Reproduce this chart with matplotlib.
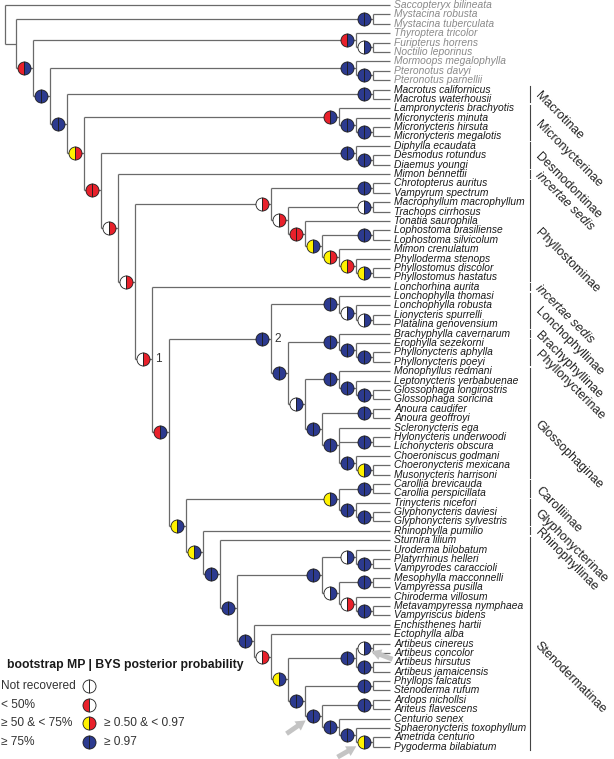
import matplotlib
matplotlib.use("Agg")
import matplotlib.pyplot as plt

plt.rcParams['font.family'] = ['Liberation Sans', 'DejaVu Sans']

# ---------------- data ----------------
TAXA = [
    "Saccopteryx bilineata", "Mystacina robusta", "Mystacina tuberculata",
    "Thyroptera tricolor", "Furipterus horrens", "Noctilio leporinus",
    "Mormoops megalophylla", "Pteronotus davyi", "Pteronotus parnellii",
    "Macrotus californicus", "Macrotus waterhousii", "Lampronycteris brachyotis",
    "Micronycteris minuta", "Micronycteris hirsuta", "Micronycteris megalotis",
    "Diphylla ecaudata", "Desmodus rotundus", "Diaemus youngi", "Mimon bennettii",
    "Chrotopterus auritus", "Vampyrum spectrum", "Macrophyllum macrophyllum",
    "Trachops cirrhosus", "Tonatia saurophila", "Lophostoma brasiliense",
    "Lophostoma silvicolum", "Mimon crenulatum", "Phylloderma stenops",
    "Phyllostomus discolor", "Phyllostomus hastatus", "Lonchorhina aurita",
    "Lonchophylla thomasi", "Lonchophylla robusta", "Lionycteris spurrelli",
    "Platalina genovensium", "Brachyphylla cavernarum", "Erophylla sezekorni",
    "Phyllonycteris aphylla", "Phyllonycteris poeyi", "Monophyllus redmani",
    "Leptonycteris yerbabuenae", "Glossophaga longirostris", "Glossophaga soricina",
    "Anoura caudifer", "Anoura geoffroyi", "Scleronycteris ega",
    "Hylonycteris underwoodi", "Lichonycteris obscura", "Choeroniscus godmani",
    "Choeronycteris mexicana", "Musonycteris harrisoni", "Carollia brevicauda",
    "Carollia perspicillata", "Trinycteris nicefori", "Glyphonycteris daviesi",
    "Glyphonycteris sylvestris", "Rhinophylla pumilio", "Sturnira lilium",
    "Uroderma bilobatum", "Platyrrhinus helleri", "Vampyrodes caraccioli",
    "Mesophylla macconnelli", "Vampyressa pusilla", "Chiroderma villosum",
    "Metavampyressa nymphaea", "Vampyriscus bidens", "Enchisthenes hartii",
    "Ectophylla alba", "Artibeus cinereus", "Artibeus concolor",
    "Artibeus hirsutus", "Artibeus jamaicensis", "Phyllops falcatus",
    "Stenoderma rufum", "Ardops nichollsi", "Ariteus flavescens",
    "Centurio senex", "Sphaeronycteris toxophyllum", "Ametrida centurio",
    "Pygoderma bilabiatum",
]
N_OUTGROUP = 9

# Newick topology on taxon indices; node label = MP support + BYS support (+ optional node tag)
# w = not recovered, r = <50% / 0.50-0.97, y = 50-75%, b = >=75% / >=0.97
PHYLLOSTOMINAE = "((19,20)bb,((21,22)wb,(23,((24,25)bb,(26,(27,(28,29)yb)yr)yr)yb)rr)wr)wr"
NECTARIVORES = ("((31,(32,(33,34)wb)wb)bb,((35,(36,(37,38)bb)bb)bb,((39,(40,(41,42)bb)bb)bb,"
                "((43,44)bb,(45,(46,47)bb,(48,(49,50)yb)bb)bb)bb)wb)bb)bb2")
FRUGIVORES = ("(((51,52)bb,(53,(54,55)bb)bb)yb,(56,(57,(((58,(59,60)bb)wb,((61,62)bb,(63,(64,65)bb)wr)wb)bb,"
              "(66,(67,(((68,69)wb,(70,71)bb)bb,((72,73)bb,((74,75)bb,(76,(77,(78,79)yb)bb)bb)bb)bb)yb)wr)bb)bb)bb)yb)yb")
TREE = ("(0,((1,2)bb,((3,(4,5)wb)rb,((6,(7,8)bb)bb,((9,10)bb,((11,(12,(13,14)bb)bb)rb,"
        "((15,(16,17)bb)bb,(18,(" + PHYLLOSTOMINAE + ",(30,(" + NECTARIVORES + "," + FRUGIVORES +
        ")rb)wr1)wr)wr)rr)yr)bb)bb)rb))")

SUBFAMILIES = [
    ("Macrotinae", 9, 10), ("Micronycterinae", 11, 14), ("Desmodontinae", 15, 17),
    ("incertae sedis", 18, 18), ("Phyllostominae", 19, 29), ("incertae sedis", 30, 30),
    ("Lonchophyllinae", 31, 34), ("Brachyphyllinae", 35, 35), ("Phyllonycterinae", 36, 38),
    ("Glossophaginae", 39, 50), ("Carolliinae", 51, 52), ("Glyphonycterinae", 53, 55),
    ("Rhinophyllinae", 56, 56), ("Stenodermatinae", 57, 79),
]

LEGEND_TITLE = "bootstrap MP | BYS posterior probability"
LEGEND_MP = ["Not recovered", "< 50%", "≥ 50 & < 75%", "≥ 75%"]
LEGEND_CODES = ["ww", "rw", "yr", "bb"]
LEGEND_BYS = ["", "", "≥ 0.50 & < 0.97", "≥ 0.97"]

# nodes highlighted by grey arrows (first leaf, last leaf of clade)
ARROW_CLADES = [(68, 69), (74, 79), (78, 79)]

COLORS = {'w': '#ffffff', 'r': '#e8212b', 'y': '#fff200', 'b': '#2c3a8f'}


# ---------------- tree parsing / layout ----------------
def parse(s):
    pos = 0

    def node():
        nonlocal pos
        if s[pos] == '(':
            pos += 1
            kids = [node()]
            while s[pos] == ',':
                pos += 1
                kids.append(node())
            pos += 1  # ')'
            start = pos
            while pos < len(s) and s[pos] not in ',)':
                pos += 1
            lab = s[start:pos]
            return {'kids': kids, 'code': lab[:2], 'tag': lab[2:]}
        start = pos
        while s[pos] not in ',)':
            pos += 1
        return {'leaf': int(s[start:pos])}
    return node()


def layout(n):
    if 'leaf' in n:
        n['h'] = 0
        n['y'] = n['leaf']
        n['lo'] = n['hi'] = n['leaf']
    else:
        for k in n['kids']:
            layout(k)
        n['h'] = 1 + max(k['h'] for k in n['kids'])
        n['y'] = (n['kids'][0]['y'] + n['kids'][-1]['y']) / 2
        n['lo'] = n['kids'][0]['lo']
        n['hi'] = n['kids'][-1]['hi']
    n['x'] = -n['h']


root = parse(TREE)
layout(root)
root['x'] = root['kids'][1]['x'] - 0.65

W, H = 614, 759
fig = plt.figure(figsize=(W / 100, H / 100), dpi=100)
ax = fig.add_axes([0, 0, 1, 1])
XSTEP, YSTEP, X0, Y0 = 17.0, 9.39, 390.0, 5.0
ax.set_xlim(-X0 / XSTEP, (W - X0) / XSTEP)
ax.set_ylim((H - Y0) / YSTEP, -Y0 / YSTEP)
ax.axis('off')

LINE = '#6a6a6a'
CIRC_DX = -9.5 / XSTEP
nodes = []


def draw(n):
    if 'leaf' in n:
        return
    nodes.append(n)
    ys = [k['y'] for k in n['kids']]
    ax.vlines(n['x'], min(ys), max(ys), color=LINE, lw=0.9, zorder=1)
    for k in n['kids']:
        ax.hlines(k['y'], n['x'], k['x'], color=LINE, lw=0.9, zorder=1)
        draw(k)


draw(root)

for n in nodes:
    if n['code']:
        ax.plot(n['x'] + CIRC_DX, n['y'], marker='o', ms=9.4, fillstyle='left',
                markerfacecolor=COLORS[n['code'][0]],
                markerfacecoloralt=COLORS[n['code'][1]],
                markeredgecolor='#1c1c1c', mew=0.6, zorder=3, ls='none')
    if n['tag']:
        ax.annotate(n['tag'], xy=(n['x'], n['y']), xytext=(3, 0), textcoords='offset pixels',
                    va='center', ha='left', fontsize=8.5, color='#333333')

for i, name in enumerate(TAXA):
    ax.annotate(name, xy=(0, i), xytext=(4, 0), textcoords='offset pixels',
                va='center', ha='left', fontsize=7.4, style='italic',
                color='#8a8a8a' if i < N_OUTGROUP else '#1a1a1a')

# subfamily brackets
ytr = ax.get_yaxis_transform()
for name, a, b in SUBFAMILIES:
    ax.plot([530 / W, 530 / W], [a - 0.38, b + 0.38], transform=ytr, color='#444444', lw=0.8)
    ax.text(537 / W, (a + b) / 2, name, transform=ytr, rotation=-45, rotation_mode='anchor',
            ha='left', va='center', fontsize=9, color='#222222',
            style='italic' if name.startswith('incertae') else 'normal')

# arrows
offsets = [(29, -11), (-26, -18), (-26, -15)]
for (lo, hi), off in zip(ARROW_CLADES, offsets):
    n = [m for m in nodes if m['lo'] == lo and m['hi'] == hi][0]
    ax.annotate('', xy=(n['x'] + CIRC_DX, n['y']), xytext=off, textcoords='offset pixels',
                arrowprops=dict(arrowstyle='simple,head_length=0.7,head_width=0.8,tail_width=0.35',
                                color='#c4c4c4', lw=0, shrinkA=0, shrinkB=6, mutation_scale=10),
                zorder=2)

# legend (pixel overlay)
ov = fig.add_axes([0, 0, 1, 1])
ov.set_xlim(0, W)
ov.set_ylim(H, 0)
ov.axis('off')
ov.patch.set_alpha(0)
ov.text(7, 665, LEGEND_TITLE, fontsize=8.8, fontweight='bold', color='#1a1a1a', va='center')
for k, (t1, code, t2) in enumerate(zip(LEGEND_MP, LEGEND_CODES, LEGEND_BYS)):
    yy = 686 + k * 18.7
    ov.text(1, yy, t1, fontsize=8.6, color='#333333', va='center')
    ov.plot(89, yy, marker='o', ms=9.4, fillstyle='left', markerfacecolor=COLORS[code[0]],
            markerfacecoloralt=COLORS[code[1]], markeredgecolor='#1c1c1c', mew=0.6, ls='none')
    if t2:
        ov.text(104, yy, t2, fontsize=8.6, color='#333333', va='center')

fig.savefig('out.png', dpi=100)
